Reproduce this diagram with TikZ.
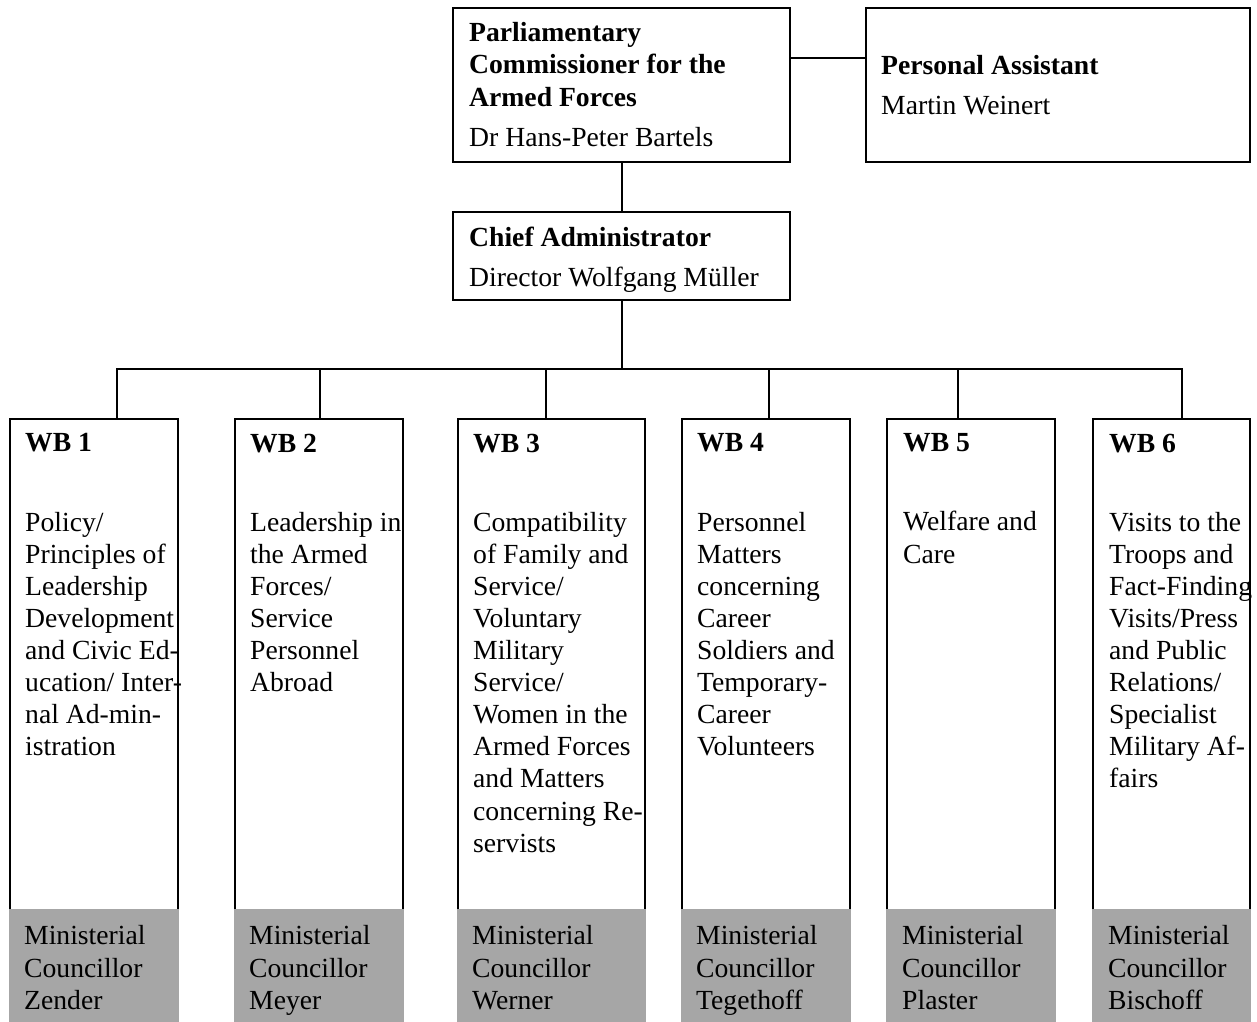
\documentclass[tikz,border=0pt]{standalone}
\usepackage{fontspec}
\setmainfont{Liberation Serif}
\usetikzlibrary{positioning}
\definecolor{wbgray}{HTML}{A6A6A6}

\begin{document}
\begin{tikzpicture}
    [
        x=1pt, y=-1pt,
        box/.style = {
            draw, line width=2pt, rectangle, inner sep=0pt, outer sep=0pt
        },
        wb box/.style = {
            box, anchor=north west, minimum height=602pt
        },
        shade box/.style = {
            fill=wbgray, rectangle, inner sep=0pt, outer sep=0pt,
            anchor=north west, minimum height=113pt
        },
        link/.style = {
            line width=2pt, line cap=rect
        },
        txt/.style = {
            anchor=north west, inner sep=0pt, align=left, yshift=19.5pt,
            font=\fontsize{27.65}{32.1}\selectfont, execute at begin node=\strut
        },
    ]
    \useasboundingbox (0,0) rectangle (1257,1021);
    %\draw[help lines] (0,0) grid (1257,1021);
    \node[box, anchor=north west, minimum width=337pt, minimum height=154pt] (pc) at (453,8) {};
    \node[box, minimum width=384pt, minimum height=154pt, right=76pt of pc] (pa) {};
    \node[box, minimum width=337pt, minimum height=88pt, below=50pt of pc] (chief) {};
    \coordinate (pa link) at (0,58);
    \draw[link] (pc.east |- pa link) -- (pa.west |- pa link);
    \draw[link] (pc.south) -- (chief.north);
    \foreach \i/\x/\w/\d in {1/10/168/117, 2/235/168/320, 3/458/187/546,
                             4/682/168/769, 5/887/168/958, 6/1093/157/1182}
    {
        \node[wb box, minimum width=\w pt] (wb\i) at (\x,419) {};
        \node[shade box, minimum width=\w pt+2pt] (rank\i) at (\x-1,909) {};
        \coordinate (drop\i) at (\d,369);
        \draw[link] (drop\i) -- (drop\i |- wb\i.north);
    }
    \draw[link] (chief.south) -- (chief.south |- drop1);
    \draw[link] (drop1) -- (drop6);
    % texts
    \node[txt] (pc text) at ([shift={(16,34)}]pc.north west)
        {\textbf{Parliamentary}\\\textbf{Commissioner for the}\\\textbf{Armed Forces}\\[8.5pt]Dr Hans-Peter Bartels};
    \node[txt] (pa text) at ([shift={(15,67)}]pa.north west)
        {\textbf{Personal Assistant}\\[7.9pt]Martin Weinert};
    \node[txt] (chief text) at ([shift={(16,34)}]chief.north west)
        {\textbf{Chief Administrator}\\[7.9pt]Director Wolfgang Müller};
    \node[txt] (wb1 text) at ([shift={(15,34)}]wb1.north west)
        {\textbf{WB 1}\\[47pt]Policy/\\Principles of\\Leadership\\Development\\and Civic Ed-\\ucation/ Inter-\\nal Ad-min-\\istration};
    \node[txt] (wb2 text) at ([shift={(15,34)}]wb2.north west)
        {\textbf{WB 2}\\[47pt]Leadership in\\the Armed\\Forces/\\Service\\Personnel\\Abroad};
    \node[txt] (wb3 text) at ([shift={(15,34)}]wb3.north west)
        {\textbf{WB 3}\\[47pt]Compatibility\\of Family and\\Service/\\Voluntary\\Military\\Service/\\Women in the\\Armed Forces\\and Matters\\concerning Re-\\servists};
    \node[txt] (wb4 text) at ([shift={(15,34)}]wb4.north west)
        {\textbf{WB 4}\\[47pt]Personnel\\Matters\\concerning\\Career\\Soldiers and\\Temporary-\\Career\\Volunteers};
    \node[txt] (wb5 text) at ([shift={(16,34)}]wb5.north west)
        {\textbf{WB 5}\\[47pt]Welfare and\\Care};
    \node[txt] (wb6 text) at ([shift={(16,34)}]wb6.north west)
        {\textbf{WB 6}\\[47pt]Visits to the\\Troops and\\Fact-Finding\\Visits/Press\\and Public\\Relations/\\Specialist\\Military Af-\\fairs};
    \node[txt] (wb1 head) at ([shift={(15,36)}]rank1.north west) {Ministerial\\Councillor\\Zender};
    \node[txt] (wb2 head) at ([shift={(15,36)}]rank2.north west) {Ministerial\\Councillor\\Meyer};
    \node[txt] (wb3 head) at ([shift={(15,36)}]rank3.north west) {Ministerial\\Councillor\\Werner};
    \node[txt] (wb4 head) at ([shift={(15,36)}]rank4.north west) {Ministerial\\Councillor\\Tegethoff};
    \node[txt] (wb5 head) at ([shift={(16,36)}]rank5.north west) {Ministerial\\Councillor\\Plaster};
    \node[txt] (wb6 head) at ([shift={(16,36)}]rank6.north west) {Ministerial\\Councillor\\Bischoff};
\end{tikzpicture}
\end{document}
